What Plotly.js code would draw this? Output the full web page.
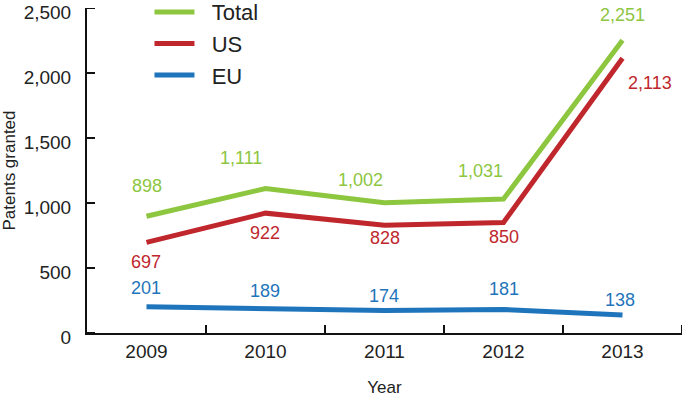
<!DOCTYPE html>
<html>
<head>
<meta charset="utf-8">
<script src="https://cdn.plot.ly/plotly-3.0.1.min.js"></script>
<style>
	html, body { margin: 0; padding: 0; background: #fff; }
	#chart { width: 685px; height: 401px; }
</style>
</head>
<body>
<div id="chart"></div>
<script>
// data
const years = [ '2009', '2010', '2011', '2012', '2013' ];
const total = [ 898, 1111, 1002, 1031, 2251 ];
const us = [ 697, 922, 828, 850, 2113 ];
const eu = [ 201, 189, 174, 181, 138 ];
const yTicks = [ 0, 500, 1000, 1500, 2000, 2500 ];

const seriesColors = {
	total: '#8dc63f',
	us: '#c0272d',
	eu: '#1f75bb',
};

// label offsets in pixels [xshift, yshift] per point
const totalOffsets = [ [ 0, 30 ], [ -25, 31 ], [ -24, 23 ], [ -23, 28 ], [ 0, 25 ] ];
const usOffsets = [ [ -1, -20 ], [ -1, -20 ], [ 0, -13 ], [ 0, -14 ], [ 27, -25 ] ];
const euOffsets = [ [ -1, 19 ], [ -1, 17 ], [ -1, 14 ], [ 0, 20 ], [ -3, 15 ] ];

const font = '"Liberation Sans", Arial, sans-serif';
const pad = '\u00a0\u00a0';
const axisColor = '#111';

function trace( name, y, color ){
	return {
		x: years,
		y: y,
		name: pad + name,
		type: 'scatter',
		mode: 'lines',
		line: { color: color, width: 5 },
		hoverinfo: 'skip',
	};
}

function labels( y, color, offsets ){
	return y.map(( v, i ) => ({
		x: i,
		y: v,
		xref: 'x',
		yref: 'y',
		text: String(v).replace(/\B(?=(\d{3})+$)/, ','),
		showarrow: false,
		xshift: offsets[i][0],
		yshift: offsets[i][1],
		font: { family: font, size: 18, color: color },
	}));
}

/**
 * Inside tick marks: x ticks sit on category boundaries, y ticks on the value ticks
 */
function tickShapes(){
	const shapes = [];
	years.forEach(( y, i ) => {
		shapes.push({
			type: 'line',
			layer: 'above',
			xref: 'x',
			yref: 'paper',
			ysizemode: 'pixel',
			yanchor: 0,
			x0: i + 0.5,
			x1: i + 0.5,
			y0: 0,
			y1: 8,
			line: { color: axisColor, width: 2 },
		});
	});
	yTicks.forEach(v => {
		shapes.push({
			type: 'line',
			layer: 'above',
			xref: 'paper',
			yref: 'y',
			xsizemode: 'pixel',
			xanchor: 0,
			x0: 0,
			x1: 8,
			y0: v,
			y1: v,
			line: { color: axisColor, width: 2 },
		});
	});
	return shapes;
}

const data = [
	trace('Total', total, seriesColors.total),
	trace('US', us, seriesColors.us),
	trace('EU', eu, seriesColors.eu),
];

const layout = {
	width: 685,
	height: 401,
	margin: { l: 87, r: 3, t: 8, b: 68, autoexpand: false },
	paper_bgcolor: '#fff',
	plot_bgcolor: '#fff',
	font: { family: font, color: '#222' },
	showlegend: true,
	legend: {
		x: 0.105,
		y: 1.052,
		xanchor: 'left',
		yanchor: 'top',
		font: { family: font, size: 22, color: '#222' },
		bgcolor: 'rgba(0,0,0,0)',
		itemwidth: 40,
	},
	xaxis: {
		type: 'category',
		range: [ -0.5, 4.5 ],
		showgrid: false,
		zeroline: false,
		showline: true,
		linecolor: axisColor,
		linewidth: 2,
		ticks: '',
		tickfont: { family: font, size: 19, color: '#222' },
		title: { text: 'Year', font: { family: font, size: 17, color: '#222' }, standoff: 20 },
	},
	yaxis: {
		range: [ 0, 2500 ],
		tickmode: 'array',
		tickvals: yTicks,
		tickformat: ',d',
		showgrid: false,
		zeroline: false,
		showline: true,
		linecolor: axisColor,
		linewidth: 2,
		ticks: '',
		ticklabeloverflow: 'allow',
		ticklabelshift: 4,
		ticklabelstandoff: 10,
		tickfont: { family: font, size: 19, color: '#222' },
		title: { text: 'Patents granted', font: { family: font, size: 17, color: '#222' }, standoff: 8 },
	},
	shapes: tickShapes(),
	annotations: [].concat(
		labels(total, seriesColors.total, totalOffsets),
		labels(us, seriesColors.us, usOffsets),
		labels(eu, seriesColors.eu, euOffsets)
	),
};

Plotly.newPlot('chart', data, layout, { displayModeBar: false });
</script>
</body>
</html>
